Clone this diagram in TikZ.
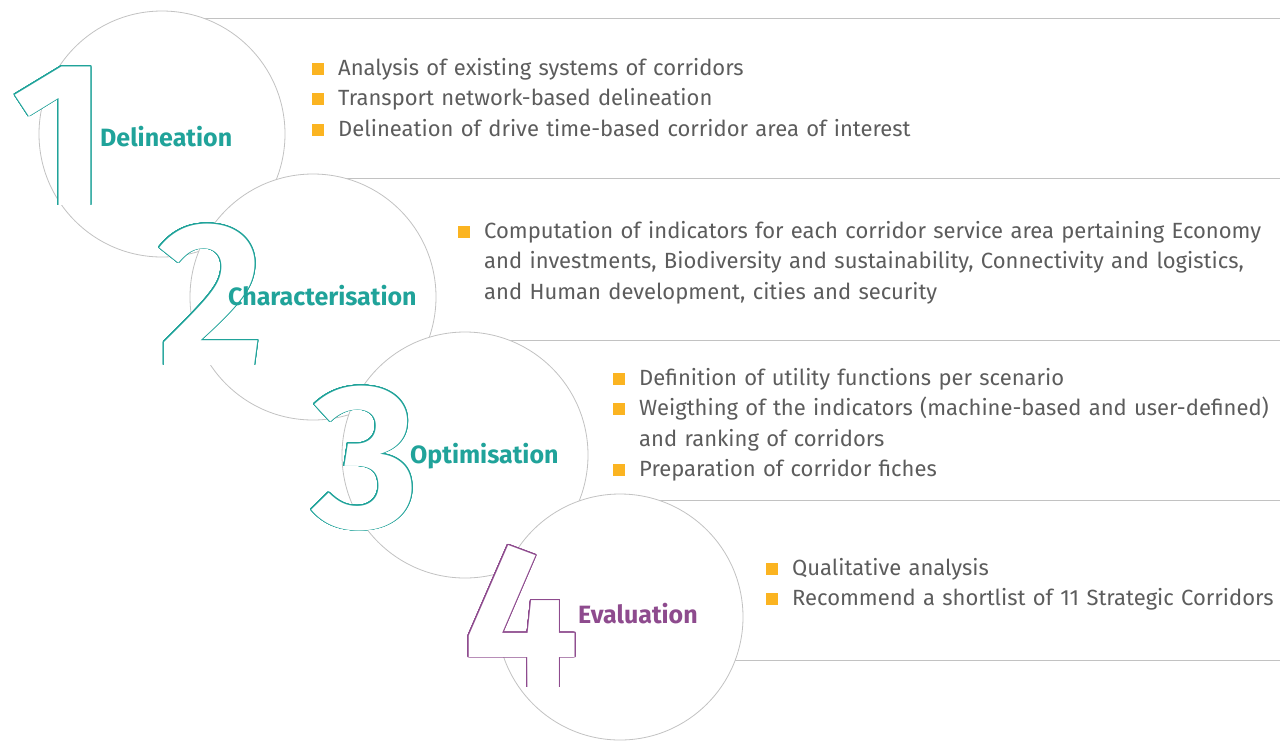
\documentclass[tikz,border=0pt]{standalone}
\usepackage{fontspec}
\setmainfont{Fira Sans}
\usepackage{contour}
\contourlength{0.9pt}
\contournumber{32}
\definecolor{stepteal}{HTML}{20A39A}
\definecolor{steppurple}{HTML}{8E4B8E}
\definecolor{bulletorange}{HTML}{FBB421}
\definecolor{txtgray}{HTML}{5C5C5C}
\definecolor{ringgray}{HTML}{C2C2C2}
\newcommand\stepitem[1]{\hangindent=26pt\hangafter=1\noindent\textcolor{bulletorange}{\rule[0.5pt]{12pt}{12pt}}\hspace{14pt}#1\par}
\tikzset{
  stepcircle/.style={circle,draw=ringgray,fill=white,line width=0.8pt,minimum size=246pt,inner sep=0pt},
  band/.style={draw=ringgray,line width=0.8pt},
  digit/.style={anchor=base west,inner sep=0pt,text=white,font=\fontsize{205}{205}\selectfont\bfseries},
  steplabel/.style={anchor=west,inner sep=0pt,font=\fontsize{25}{25}\selectfont\bfseries},
  points/.style={anchor=north west,inner sep=0pt,text width=815pt,align=left,text=txtgray,font=\fontsize{22}{30.5}\selectfont}
}
\begin{document}
\begin{tikzpicture}[x=1pt,y=-1pt]
 \useasboundingbox (0,0) rectangle (1280,740);
 \draw[band] (162,18) -- (1280,18);
 \draw[band] (313,178) -- (1280,178);
 \draw[band] (465,340) -- (1280,340);
 \draw[band] (620,500) -- (1280,500);
 \draw[band] (620,660) -- (1280,660);
 % step 1
 \node[stepcircle] (c1) at (162,134) {};
 \node[digit] (d1) at (12,205) {\contour{stepteal}{1}};
 \node[steplabel,text=stepteal] (l1) at (100,137) {Delineation};
 \node[points] (p1) at (312,58) {%
  \stepitem{Analysis of existing systems of corridors}
  \stepitem{Transport network-based delineation}
  \stepitem{Delineation of drive time-based corridor area of interest}};
 % step 2
 \node[stepcircle] (c2) at (313,297) {};
 \node[digit] (d2) at (158,365) {\contour{stepteal}{2}};
 \node[steplabel,text=stepteal] (l2) at (228,296) {Characterisation};
 \node[points] (p2) at (458,221) {%
  \stepitem{Computation of indicators for each corridor service area pertaining Economy\newline
   and investments, Biodiversity and sustainability, Connectivity and logistics,\newline
   and Human development, cities and security}};
 % step 3
 \node[stepcircle] (c3) at (465,455) {};
 \node[digit] (d3) at (312,527) {\contour{stepteal}{3}};
 \node[steplabel,text=stepteal] (l3) at (410,456) {Optimisation};
 \node[points] (p3) at (613,368) {%
  \stepitem{Definition of utility functions per scenario}
  \stepitem{Weigthing of the indicators (machine-based and user-defined)\newline
   and ranking of corridors}
  \stepitem{Preparation of corridor fiches}};
 % step 4
 \node[stepcircle] (c4) at (620,617) {};
 \node[digit] (d4) at (463,687) {\contour{steppurple}{4}};
 \node[steplabel,text=steppurple] (l4) at (578,614) {Evaluation};
 \node[points] (p4) at (766,558) {%
  \stepitem{Qualitative analysis}
  \stepitem{Recommend a shortlist of 11 Strategic Corridors}};
\end{tikzpicture}
\end{document}
